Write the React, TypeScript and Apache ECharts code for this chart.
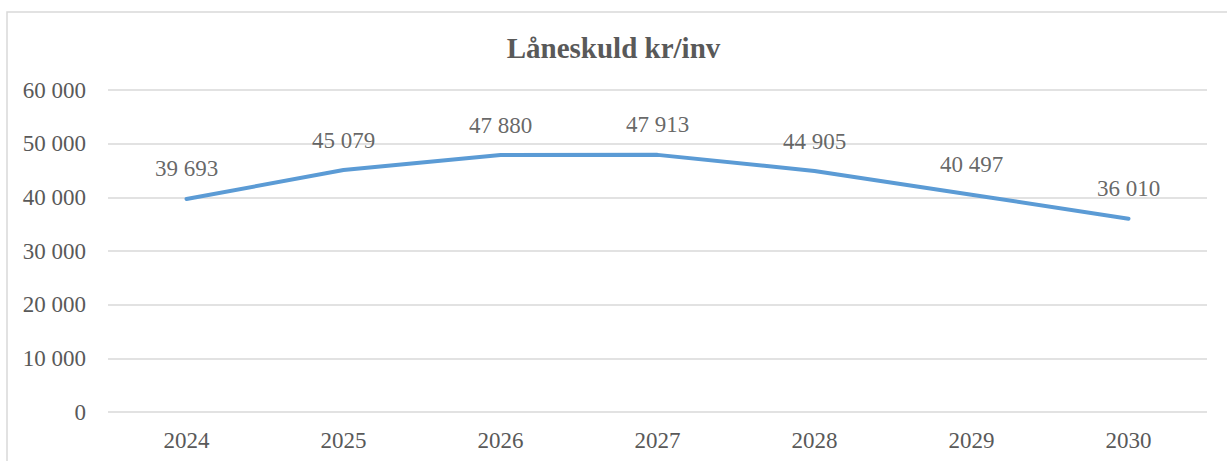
import React, { useEffect, useRef } from "react";
import * as echarts from "echarts";

const title = "Låneskuld kr/inv";
const years = ["2024", "2025", "2026", "2027", "2028", "2029", "2030"];
const debtPerInhabitant = [39693, 45079, 47880, 47913, 44905, 40497, 36010];
const yMin = 0;
const yMax = 60000;
const yStep = 10000;

const fmt = (v: number) => String(Math.round(v)).replace(/\B(?=(\d{3})+(?!\d))/g, " ");
const FONT = "Liberation Serif";

export default function App() {
  const ref = useRef<HTMLDivElement>(null);
  useEffect(() => {
    document.body.style.margin = "0";
    const chart = echarts.init(ref.current!, null, { renderer: "svg" });
    chart.setOption({
      animation: false,
      backgroundColor: "#ffffff",
      textStyle: { fontFamily: FONT },
      title: {
        text: title,
        left: "center",
        top: 28,
        textStyle: { fontFamily: FONT, fontSize: 29, fontWeight: "bold", color: "#595959" },
      },
      graphic: [
        {
          type: "rect",
          shape: { x: 7, y: 12, width: 1240, height: 470 },
          style: { fill: "none", stroke: "#d9d9d9", lineWidth: 1.5 },
          silent: true,
        },
      ],
      grid: { left: 108, right: 20, top: 90, bottom: 49, containLabel: false },
      xAxis: {
        type: "category",
        data: years,
        boundaryGap: true,
        axisLine: { show: false },
        axisTick: { show: false },
        axisLabel: { fontFamily: FONT, fontSize: 23, color: "#595959", margin: 17 },
      },
      yAxis: {
        type: "value",
        min: yMin,
        max: yMax,
        interval: yStep,
        axisLine: { show: false },
        axisTick: { show: false },
        splitLine: { lineStyle: { color: "#d9d9d9", width: 1.5 } },
        axisLabel: {
          fontFamily: FONT,
          fontSize: 23,
          color: "#595959",
          margin: 22,
          formatter: (v: number) => fmt(v),
        },
      },
      series: [
        {
          type: "line",
          data: debtPerInhabitant,
          symbol: "none",
          lineStyle: { color: "#5b9bd5", width: 4, cap: "round", join: "round" },
          z: 2,
        },
        {
          type: "scatter",
          data: debtPerInhabitant,
          symbolSize: 1,
          itemStyle: { color: "rgba(0,0,0,0)" },
          silent: true,
          z: 3,
          label: {
            show: true,
            position: "top",
            distance: 18,
            fontFamily: FONT,
            fontSize: 23,
            color: "#404040",
            textBorderWidth: 0,
            formatter: (p: any) => "{v|" + fmt(p.value) + "}",
            rich: {
              v: { fontFamily: FONT, fontSize: 23, color: "#404040", textBorderWidth: 0 },
            },
          },
        },
      ],
    });
    return () => chart.dispose();
  }, []);
  return <div ref={ref} style={{ width: 1227, height: 461 }} />;
}
